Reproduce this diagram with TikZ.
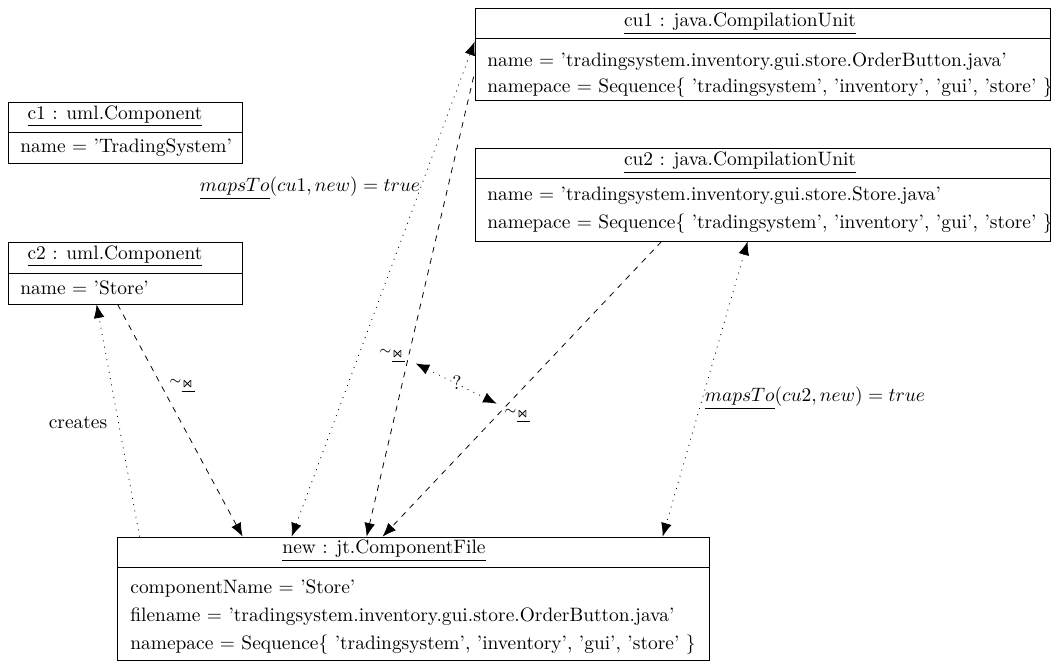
\documentclass[tikz,border=0pt]{standalone}
\usepackage{amssymb}
\usetikzlibrary{arrows.meta,fit,calc}
\newcommand{\simjoin}{${\scriptstyle\sim}_{\underline{\Join}}$}
\begin{document}
\begin{tikzpicture}[x=0.515pt,y=-0.515pt,
  objbox/.style={draw,inner sep=0pt},
  head/.style={anchor=mid,inner sep=0pt},
  attr/.style={anchor=mid west,inner sep=0pt},
  lbl/.style={inner sep=0pt},
  tip/.style={-{Latex[length=7pt,width=5.5pt]}},
  dep/.style={dashed,tip},
  rel/.style={dash pattern=on 0.5pt off 2.8pt,tip},
  birel/.style={dash pattern=on 0.5pt off 2.8pt,{Latex[length=7pt,width=5.5pt]}-{Latex[length=7pt,width=5.5pt]}},
]
\useasboundingbox (0,0) rectangle (1057,662);

% object cu1
\node[objbox,fit={(475,8) (1050,100)}] (cu1) {};
\draw (475,38) -- (1050,38);
\node[head] (cu1h) at (740,22) {\underline{cu1 : java.CompilationUnit}};
\node[attr] (cu1a) at (487,62) {name = 'tradingsystem.inventory.gui.store.OrderButton.java'};
\node[attr] (cu1b) at (487,88) {namepace = Sequence\{ 'tradingsystem', 'inventory', 'gui', 'store' \}};

% object cu2
\node[objbox,fit={(475,148) (1050,241)}] (cu2) {};
\draw (475,178) -- (1050,178);
\node[head] (cu2h) at (740,161) {\underline{cu2 : java.CompilationUnit}};
\node[attr] (cu2a) at (487,196) {name = 'tradingsystem.inventory.gui.store.Store.java'};
\node[attr] (cu2b) at (487,224) {namepace = Sequence\{ 'tradingsystem', 'inventory', 'gui', 'store' \}};

% object c1
\node[objbox,fit={(8,102) (242,163)}] (c1) {};
\draw (8,132) -- (242,132);
\node[head] (c1h) at (115,115) {\underline{c1 : uml.Component}};
\node[attr] (c1a) at (20,148) {name $=$ 'TradingSystem'};

% object c2
\node[objbox,fit={(8,242) (242,304)}] (c2) {};
\draw (8,273) -- (242,273);
\node[head] (c2h) at (115,255) {\underline{c2 : uml.Component}};
\node[attr] (c2a) at (20,290) {name $=$ 'Store'};

% object new
\node[objbox,fit={(117,537) (709,660.5)}] (new) {};
\draw (117,567) -- (709,567);
\node[head] (newh) at (384,549) {\underline{new : jt.ComponentFile}};
\node[attr] (newa) at (130,589) {componentName $=$ 'Store'};
\node[attr] (newb) at (130,617) {filename = 'tradingsystem.inventory.gui.store.OrderButton.java'};
\node[attr] (newc) at (130,645) {namepace $=$ Sequence\{ 'tradingsystem', 'inventory', 'gui', 'store' \}};

% relations
\draw[rel] ($(new.north west)+(23,0)$) -- ($(c2.south west)+(89,0)$);
\draw[dep] ($(c2.south west)+(110,0)$) -- ($(new.north west)+(126,0)$);
\draw[birel] ($(new.north west)+(175,0)$) -- ($(cu1.north west)+(0,34)$);
\draw[dep] ($(cu1.north west)+(-1,69)$) -- coordinate[pos=0.615] (q1) ($(new.north west)+(250,0)$);
\draw[dep] ($(cu2.south west)+(187,0)$) -- coordinate[pos=0.563] (q2) ($(new.north west)+(266,0)$);
\draw[birel,shorten <=4.5pt,shorten >=4.5pt] (q1) -- (q2);
\draw[birel] ($(cu2.south west)+(273,0)$) -- ($(new.north west)+(546,0)$);

% labels
\node[lbl] (lcr) at (78,423) {creates};
\node[lbl] (lm1) at (310,188) {$\underline{mapsTo}(cu1, new) = true$};
\node[lbl] (lm2) at (815,398) {$\underline{mapsTo}(cu2, new) = true$};
\node[lbl] (ls1) at (182,386) {\simjoin};
\node[lbl] (ls2) at (392,356) {\simjoin};
\node[lbl] (ls3) at (517,416) {\simjoin};
\node[lbl] (lq) at (457,383) {?};
\end{tikzpicture}
\end{document}
